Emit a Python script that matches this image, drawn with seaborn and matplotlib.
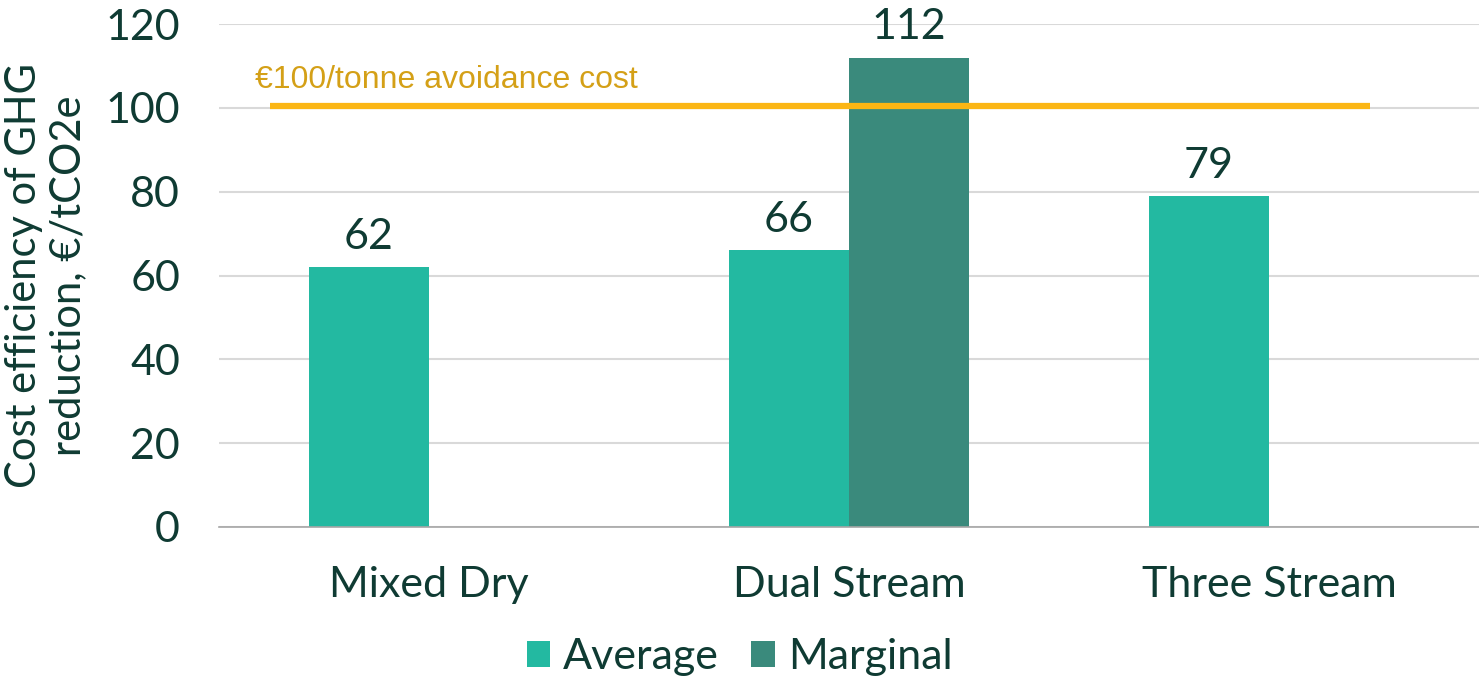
import numpy as np
import pandas as pd
import matplotlib
matplotlib.use("Agg")
import matplotlib.pyplot as plt
import seaborn as sns

# data
categories = ["Mixed Dry", "Dual Stream", "Three Stream"]
series = ["Average", "Marginal"]
average_vals = [62, 66, 79]
marginal_vals = [np.nan, 112, np.nan]
threshold = 100.5
threshold_label = "€100/tonne avoidance cost"

df = pd.DataFrame({
    "category": categories * 2,
    "series": ["Average"] * 3 + ["Marginal"] * 3,
    "value": average_vals + marginal_vals,
})

TEXT = "#0f3b33"
palette = {"Average": "#23b9a1", "Marginal": "#3a8a7c"}

sns.set_theme(style="white")
plt.rcParams["font.family"] = ["Lato", "DejaVu Sans"]

fig = plt.figure(figsize=(14.79, 6.84), dpi=100)
ax = fig.add_axes([219 / 1479, 1 - 527 / 684, 1260 / 1479, 503 / 684])

sns.barplot(data=df, x="category", y="value", hue="series", order=categories,
            hue_order=series, palette=palette, width=0.571, gap=0,
            saturation=1, errorbar=None, linewidth=0, ax=ax, legend=True)

for c in ax.containers:
    ax.bar_label(c, fmt="%d", padding=8, fontsize=31, color=TEXT)

# threshold line + label
ax.plot([-0.379, 2.24], [threshold, threshold], color="#fbb614", lw=4.5,
        solid_capstyle="butt", zorder=3)
ax.text(-0.414, 104.8, threshold_label, fontsize=23, color="#d4a017",
        family=["Liberation Sans", "DejaVu Sans"], va="baseline", ha="left")

ax.set_ylim(0, 120)
ax.set_xlim(-0.5, 2.5)
ax.set_yticks(range(0, 121, 20))
ax.yaxis.grid(True, color="#d9d9d9", lw=1.5)
ax.set_axisbelow(True)

for s in ["left", "right", "top"]:
    ax.spines[s].set_visible(False)
ax.spines["bottom"].set_color("#a6a6a6")
ax.spines["bottom"].set_linewidth(1.2)

ax.tick_params(axis="y", length=0, pad=28, labelsize=31, labelcolor=TEXT)
ax.tick_params(axis="x", which="major", length=0, pad=28, labelsize=31, labelcolor=TEXT)
ax.set_xticks([-0.5, 0.5, 1.5, 2.5], minor=True)
ax.tick_params(axis="x", which="minor", length=10, width=1.2, color="#a6a6a6", direction="out")

ax.set_xlabel("")
ax.set_ylabel("Cost efficiency of GHG\nreduction, €/tCO2e", fontsize=30, color=TEXT,
              linespacing=1.2, labelpad=13)

handles, labels = ax.get_legend_handles_labels()
ax.get_legend().remove()
fig.legend(handles, labels, loc="center", bbox_to_anchor=(0.5, 1 - 657 / 684),
           ncol=2, frameon=False, fontsize=31, labelcolor=TEXT,
           handlelength=0.55, handleheight=0.55, handletextpad=0.3,
           columnspacing=0.75, borderaxespad=0)

fig.savefig("out.png", dpi=100)
